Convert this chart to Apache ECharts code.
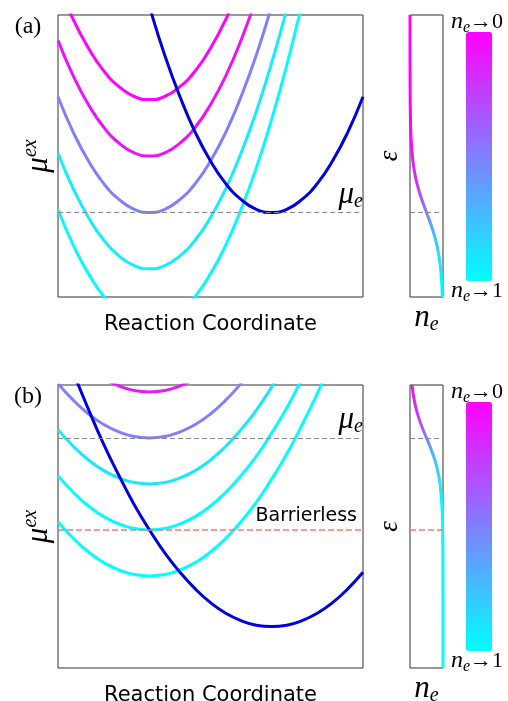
<!DOCTYPE html>
<html>
<head>
<meta charset="utf-8">
<script src="https://cdn.jsdelivr.net/npm/echarts@6/dist/echarts.min.js"></script>
<style>
  html, body { margin: 0; padding: 0; background: #fff; }
  #chart { width: 508px; height: 701px; }
</style>
</head>
<body>
<div id="chart"></div>
<script>
// reaction coordinate samples shared by every curve
const rcX = [0, 0.5, 1, 1.5, 2, 2.5, 3, 3.5, 4, 4.5, 5, 5.5, 6, 6.5, 7, 7.5, 8, 8.5, 9, 9.5, 10]

// (a) reactant wells, top to bottom
const wellA1 = [11.1, 9.84, 8.82, 8.02, 7.46, 7.11, 7, 7.11, 7.46, 8.02, 8.82, 9.84, 11.1]
const wellA2 = [9.1, 7.84, 6.82, 6.02, 5.46, 5.11, 5, 5.11, 5.46, 6.02, 6.82, 7.84, 9.1, 10.6]
const wellA3 = [7.1, 5.84, 4.82, 4.02, 3.46, 3.11, 3, 3.11, 3.46, 4.02, 4.82, 5.84, 7.1, 8.57, 10.3]
const wellA4 = [5.1, 3.84, 2.82, 2.02, 1.46, 1.11, 1, 1.11, 1.46, 2.02, 2.82, 3.84, 5.1, 6.57, 8.28, 10.2]
const wellA5 = [3.1, 1.84, 0.82, 0.02, -0.54, -0.89, -1, -0.89, -0.54, 0.02, 0.82, 1.84, 3.1, 4.57, 6.28, 8.21, 10.4]
// (a) product well
const productA = [25.3, 22.2, 19.4, 16.8, 14.4, 12.2, 10.3, 8.57, 7.1, 5.84, 4.82, 4.02, 3.46, 3.11, 3, 3.11, 3.46, 4.02, 4.82, 5.84, 7.1]
const muA = 3
// (a) occupation n_e vs energy
const energyA = [10, 9, 8, 7, 6, 5.5, 5, 4.5, 4, 3.5, 3, 2.5, 2, 1.5, 1, 0.5, 0]
const occA = [0.0001, 0.0005, 0.0016, 0.006, 0.021, 0.039, 0.072, 0.128, 0.217, 0.345, 0.5, 0.655, 0.783, 0.872, 0.928, 0.961, 0.979]

// (b) reactant wells, top to bottom
const wellB1 = [7.18, 6.82, 6.52, 6.29, 6.13, 6.03, 6, 6.03, 6.13, 6.29, 6.52, 6.82, 7.18]
const wellB2 = [6.18, 5.82, 5.52, 5.29, 5.13, 5.03, 5, 5.03, 5.13, 5.29, 5.52, 5.82, 6.18, 6.6]
const wellB3 = [5.18, 4.82, 4.52, 4.29, 4.13, 4.03, 4, 4.03, 4.13, 4.29, 4.52, 4.82, 5.18, 5.6, 6.1, 6.65]
const wellB4 = [4.18, 3.82, 3.52, 3.29, 3.13, 3.03, 3, 3.03, 3.13, 3.29, 3.52, 3.82, 4.18, 4.6, 5.1, 5.65, 6.28]
const wellB5 = [3.18, 2.82, 2.52, 2.29, 2.13, 2.03, 2, 2.03, 2.13, 2.29, 2.52, 2.82, 3.18, 3.6, 4.1, 4.65, 5.28, 5.96, 6.72]
// (b) product well
const productB = [7.32, 6.43, 5.62, 4.86, 4.18, 3.55, 3.0, 2.5, 2.08, 1.72, 1.42, 1.19, 1.03, 0.93, 0.9, 0.93, 1.03, 1.19, 1.42, 1.72, 2.08]
const muB = 5
const barrierlessB = 3
// (b) occupation n_e vs energy
const energyB = [6.15, 6, 5.75, 5.5, 5.25, 5, 4.75, 4.5, 4.25, 4, 3.5, 3, 2, 1, 0]
const occB = [0.065, 0.089, 0.149, 0.238, 0.358, 0.5, 0.642, 0.762, 0.851, 0.911, 0.97, 0.99, 0.999, 1, 1]

const colorsA = ['#fd02ff', '#ed12ff', '#8080ff', '#12edff', '#05faff']
const colorsB = ['#e817ff', '#8080ff', '#17e8ff', '#03fcff', '#00ffff']
const productColor = '#0000e0'
const serif = 'Liberation Serif'
const sans = 'DejaVu Sans'

const chart = echarts.init(document.getElementById('chart'))

const mathRich = {
  m: { fontFamily: serif, fontStyle: 'italic', fontSize: 31, color: '#000', verticalAlign: 'middle' },
  sup: { fontFamily: serif, fontStyle: 'italic', fontSize: 20, color: '#000', verticalAlign: 'middle', padding: [0, 0, 16, 0] },
  sub: { fontFamily: serif, fontStyle: 'italic', fontSize: 20, color: '#000', verticalAlign: 'middle', padding: [14, 0, 0, 0] }
}

function line(points, color, gi, extra) {
  return Object.assign({
    type: 'line',
    xAxisIndex: gi,
    yAxisIndex: gi,
    data: points,
    smooth: true,
    symbol: 'none',
    silent: true,
    animation: false,
    lineStyle: color ? { color: color, width: 3 } : { width: 3 }
  }, extra || {})
}

// a well drawn along the reaction coordinate
function well(ys, color, gi, extra) {
  return line(ys.map((y, i) => [rcX[i], y]), color, gi, extra)
}

function dashed(value, color, width, dash, label) {
  const item = { yAxis: value, lineStyle: { color: color, width: width, type: dash } }
  item.label = label ? Object.assign({ show: true, position: 'insideEndTop' }, label) : { show: false }
  return item
}

function markLines(items) {
  return { silent: true, symbol: 'none', animation: false, data: items }
}

const muLabel = { formatter: '{m|μ}{sub|e}', rich: mathRich, distance: [0, 1] }
const barrierLabel = { formatter: 'Barrierless', fontFamily: sans, fontSize: 19, color: '#000', distance: [6, 4] }

const series = [
  // panel (a)
  well(wellA1, colorsA[0], 0),
  well(wellA2, colorsA[1], 0),
  well(wellA3, colorsA[2], 0),
  well(wellA4, colorsA[3], 0),
  well(wellA5, colorsA[4], 0, {
    markLine: markLines([dashed(muA, '#888', 1, [5, 3], muLabel)])
  }),
  well(productA, productColor, 0),
  // occupation curve: x = n_e, y = energy, coloured by the visualMap
  line(energyA.map((e, i) => [occA[i], e]), null, 1, {
    markLine: markLines([dashed(muA, '#888', 1, [5, 3])])
  }),
  // panel (b)
  well(wellB1, colorsB[0], 2),
  well(wellB2, colorsB[1], 2),
  well(wellB3, colorsB[2], 2),
  well(wellB4, colorsB[3], 2),
  well(wellB5, colorsB[4], 2, {
    markLine: markLines([
      dashed(muB, '#888', 1, [5, 3], muLabel),
      dashed(barrierlessB, '#ff7575', 1.5, [6, 3], barrierLabel)
    ])
  }),
  well(productB, productColor, 2),
  line(energyB.map((e, i) => [occB[i], e]), null, 3, {
    markLine: markLines([
      dashed(muB, '#888', 1, [5, 3]),
      dashed(barrierlessB, '#ff7575', 1.5, [6, 3])
    ])
  })
]

const bare = {
  axisLine: { show: false },
  axisTick: { show: false },
  axisLabel: { show: false },
  splitLine: { show: false },
  nameLocation: 'middle'
}

function xAx(grid, max, name, gap, style) {
  return Object.assign({ type: 'value', gridIndex: grid, min: 0, max: max, name: name, nameGap: gap, nameTextStyle: style }, bare)
}
function yAx(grid, max, name, gap, style) {
  return Object.assign({ type: 'value', gridIndex: grid, min: 0, max: max, name: name, nameGap: gap, nameRotate: 90, nameTextStyle: style }, bare)
}

const rcStyle = { fontFamily: sans, fontSize: 21, color: '#000' }
const mathStyle = { rich: mathRich }
const epsStyle = { fontFamily: serif, fontStyle: 'italic', fontSize: 27, color: '#000' }

const gridBox = { show: true, borderColor: '#333', borderWidth: 1, backgroundColor: 'transparent', outerBoundsMode: 'none', containLabel: false }

function cbLabel(x, y, end) {
  return {
    type: 'text', x: x, y: y, silent: true,
    style: {
      text: '{n|n}{sub|e}{t|→' + end + '}',
      rich: {
        n: { fontFamily: serif, fontStyle: 'italic', fontSize: 24, color: '#000', verticalAlign: 'middle' },
        sub: { fontFamily: serif, fontStyle: 'italic', fontSize: 16, color: '#000', verticalAlign: 'middle', padding: [11, 0, 0, 0] },
        t: { fontFamily: serif, fontSize: 22, color: '#000', verticalAlign: 'middle' }
      },
      textVerticalAlign: 'middle'
    }
  }
}

function colorbar(seriesIdx, top) {
  return {
    type: 'continuous',
    seriesIndex: seriesIdx,
    dimension: 0,
    min: 0,
    max: 1,
    inverse: true,
    calculable: false,
    hoverLink: false,
    orient: 'vertical',
    left: 466,
    top: top,
    itemWidth: 26,
    itemHeight: 249,
    padding: 0,
    inRange: { color: ['#ff00ff', '#00ffff'] }
  }
}

chart.setOption({
  animation: false,
  backgroundColor: '#fff',
  grid: [
    Object.assign({ left: 58, top: 15, width: 305, height: 282 }, gridBox),
    Object.assign({ left: 410, top: 15, width: 33, height: 282 }, gridBox),
    Object.assign({ left: 58, top: 385, width: 305, height: 283 }, gridBox),
    Object.assign({ left: 410, top: 385, width: 33, height: 283 }, gridBox)
  ],
  xAxis: [
    xAx(0, 10, 'Reaction Coordinate', 17, rcStyle),
    xAx(1, 1, '{m|n}{sub|e}', 4, mathStyle),
    xAx(2, 10, 'Reaction Coordinate', 17, rcStyle),
    xAx(3, 1, '{m|n}{sub|e}', 4, mathStyle)
  ],
  yAxis: [
    yAx(0, 10, '{m|μ}{sup|ex}', 1, mathStyle),
    yAx(1, 10, 'ε', 7, epsStyle),
    yAx(2, 6.15, '{m|μ}{sup|ex}', 1, mathStyle),
    yAx(3, 6.15, 'ε', 7, epsStyle)
  ],
  visualMap: [colorbar(6, 32), colorbar(13, 402)],
  graphic: [
    { type: 'text', x: 28, y: 27, silent: true, style: { text: '(a)', font: '24px "Liberation Serif"', fill: '#000', textAlign: 'center', textVerticalAlign: 'middle' } },
    { type: 'text', x: 28, y: 397, silent: true, style: { text: '(b)', font: '24px "Liberation Serif"', fill: '#000', textAlign: 'center', textVerticalAlign: 'middle' } },
    cbLabel(451, 22, '0'),
    cbLabel(451, 291, '1'),
    cbLabel(451, 392, '0'),
    cbLabel(451, 661, '1')
  ],
  series: series
})
</script>
</body>
</html>
